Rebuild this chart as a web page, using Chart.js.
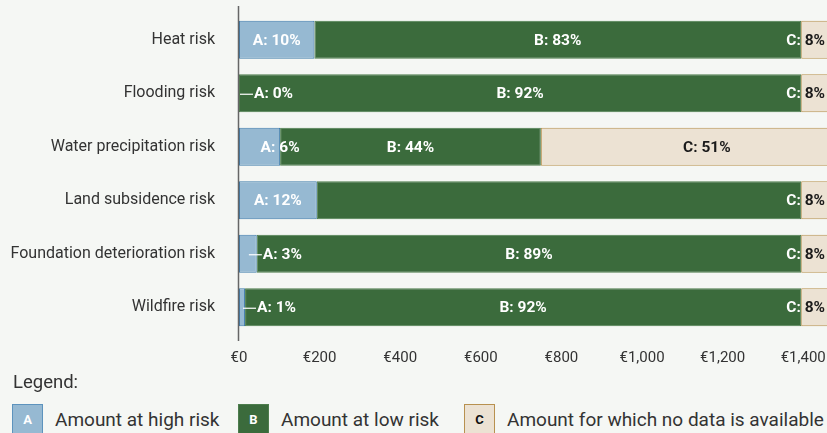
<!DOCTYPE html>
<html>
<head>
<meta charset="utf-8">
<script src="https://cdn.jsdelivr.net/npm/chart.js@4.4.1/dist/chart.umd.min.js"></script>
<style>
  html, body { margin: 0; padding: 0; background: #f5f7f4; overflow: hidden; }
  body { width: 827px; height: 433px; position: relative; font-family: Roboto, "Noto Sans", sans-serif; color: #333; }
  #wrap { position: absolute; left: 0; top: 0; width: 827px; height: 372px; }
  .legend-title { position: absolute; left: 13px; top: 371px; font-size: 18.5px; line-height: 22px; color: #333; }
  .item { position: absolute; top: 404px; height: 31px; display: flex; align-items: center; font-size: 19px; color: #333; white-space: nowrap; }
  .box { width: 31px; height: 31px; box-sizing: border-box; display: flex; align-items: center; justify-content: center;
         font-weight: 700; font-size: 13px; margin-right: 12px; }
</style>
</head>
<body>
<div id="wrap"><canvas id="chart"></canvas></div>
<div class="legend-title">Legend:</div>
<div class="item" style="left:12px"><div class="box" style="background:#96b9d2;border:1.5px solid #5d93bd;color:#fff">A</div>Amount at high risk</div>
<div class="item" style="left:238px"><div class="box" style="background:#3b6b3c;border:1.5px solid #4d7d4d;color:#fff">B</div>Amount at low risk</div>
<div class="item" style="left:464px"><div class="box" style="background:#ece2d3;border:1.5px solid #b8914f;color:#111">C</div>Amount for which no data is available</div>

<script>
// Risk categories, top to bottom
const categories = [
  'Heat risk',
  'Flooding risk',
  'Water precipitation risk',
  'Land subsidence risk',
  'Foundation deterioration risk',
  'Wildfire risk'
];

// Amounts in euros per category
const highRisk = [187, 0, 102, 193, 44, 15];
const lowRisk = [1208, 1395, 647, 1202, 1351, 1380];
const noData = [120, 120, 824, 120, 120, 120];

// Share labels (percent) shown on each segment; null = no label
const highRiskPct = [10, 0, 6, 12, 3, 1];
const lowRiskPct = [83, 92, 44, null, 89, 92];
const noDataPct = [8, 8, 51, 8, 8, 8];

// Axis ticks (euros)
const tickStep = 200;
const axisMax = 1459;

const seriesLabels = ['Amount at high risk', 'Amount at low risk', 'Amount for which no data is available'];
const segLetters = ['A', 'B', 'C'];
const segPcts = [highRiskPct, lowRiskPct, noDataPct];

const fmtEuro = v => '€' + v.toLocaleString('en-US');

// Vertical axis line on the left of the bars
const axisLine = {
  id: 'axisLine',
  afterDatasetsDraw(chart) {
    const { ctx, chartArea } = chart;
    ctx.save();
    ctx.strokeStyle = '#666';
    ctx.lineWidth = 1.5;
    ctx.beginPath();
    ctx.moveTo(chartArea.left - 0.5, chartArea.top - 7);
    ctx.lineTo(chartArea.left - 0.5, chartArea.bottom + 7);
    ctx.stroke();
    ctx.restore();
  }
};

// Segment value labels ("A: 10%"), white over blue/green, dark over beige
const segLabels = {
  id: 'segLabels',
  afterDatasetsDraw(chart) {
    const { ctx, chartArea } = chart;
    const metas = [0, 1, 2].map(i => chart.getDatasetMeta(i));
    ctx.save();
    ctx.font = 'bold 15.5px Roboto';
    ctx.textBaseline = 'middle';
    categories.forEach((cat, i) => {
      const segs = metas.map(m => {
        const el = m.data[i];
        return { x0: Math.min(el.base, el.x), x1: Math.max(el.base, el.x), y: el.y };
      });
      const cStart = segs[2].x0;
      segs.forEach((s, d) => {
        const pct = segPcts[d][i];
        if (pct === null || pct === undefined) return;
        const text = segLetters[d] + ': ' + pct + '%';
        const w = ctx.measureText(text).width;
        const sw = s.x1 - s.x0;
        const y = s.y + 1;
        let left;
        if (sw < 20) {
          // leader line for very thin segments
          const lx = (s.x0 + s.x1) / 2 + 1;
          ctx.strokeStyle = '#fff';
          ctx.lineWidth = 1.2;
          ctx.beginPath();
          ctx.moveTo(lx, y);
          ctx.lineTo(lx + 13, y);
          ctx.stroke();
          left = lx + 14;
        } else if (sw < w + 8) {
          left = s.x1 - w / 2;
        } else {
          let cx = (s.x0 + s.x1) / 2;
          cx = Math.min(cx, chartArea.right - 2 - w / 2);
          cx = Math.max(cx, chartArea.left + 2 + w / 2);
          left = cx - w / 2;
        }
        ctx.textAlign = 'left';
        ctx.save();
        ctx.beginPath();
        ctx.rect(0, y - 20, cStart, 40);
        ctx.clip();
        ctx.fillStyle = '#ffffff';
        ctx.fillText(text, left, y);
        ctx.restore();
        ctx.save();
        ctx.beginPath();
        ctx.rect(cStart, y - 20, 2000, 40);
        ctx.clip();
        ctx.fillStyle = '#1a1a1a';
        ctx.fillText(text, left, y);
        ctx.restore();
      });
    });
    ctx.restore();
  }
};

new Chart(document.getElementById('chart'), {
  type: 'bar',
  data: {
    labels: categories,
    datasets: [
      { label: seriesLabels[0], data: highRisk, backgroundColor: '#96b9d2', borderColor: '#3f7cad', borderWidth: 1, borderSkipped: false },
      { label: seriesLabels[1], data: lowRisk, backgroundColor: '#3b6b3c', borderColor: '#4d7d4d', borderWidth: 1, borderSkipped: false },
      { label: seriesLabels[2], data: noData, backgroundColor: '#ece2d3', borderColor: '#b8914f', borderWidth: 1, borderSkipped: false }
    ]
  },
  options: {
    indexAxis: 'y',
    responsive: true,
    maintainAspectRatio: false,
    animation: false,
    layout: { padding: { top: 13, right: 0, left: 0, bottom: 0 } },
    datasets: { bar: { categoryPercentage: 1, barPercentage: 0.71 } },
    plugins: { legend: { display: false }, tooltip: { enabled: false } },
    scales: {
      x: {
        stacked: true,
        min: 0,
        max: axisMax,
        grid: { display: false, drawTicks: false },
        border: { display: false },
        afterFit: s => { s.height = 38; s.paddingLeft = 0; s.paddingRight = 0; },
        ticks: {
          stepSize: tickStep,
          includeBounds: false,
          padding: 15,
          color: '#333',
          font: { family: 'Roboto', size: 15 },
          maxRotation: 0,
          callback: v => fmtEuro(v)
        }
      },
      y: {
        stacked: true,
        grid: { display: false, drawTicks: false },
        border: { display: false },
        afterFit: s => { s.width = 239; s.paddingTop = 0; s.paddingBottom = 0; },
        ticks: {
          padding: 24,
          color: '#333',
          font: { family: 'Roboto', size: 16 }
        }
      }
    }
  },
  plugins: [axisLine, segLabels]
});
</script>
</body>
</html>
